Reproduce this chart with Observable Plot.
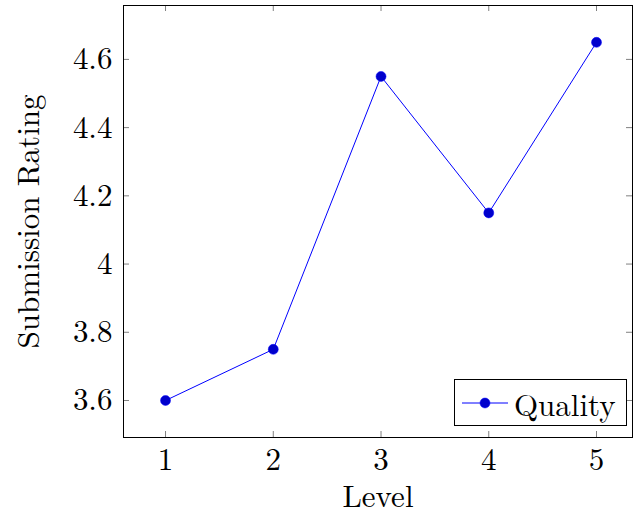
<!DOCTYPE html>
<html>
<head>
<meta charset="utf-8">
<script src="https://cdn.jsdelivr.net/npm/d3@7"></script>
<script src="https://cdn.jsdelivr.net/npm/@observablehq/plot@0.6"></script>
<style>
  body { margin: 0; background: #fff; }
  #wrap { position: relative; width: 633px; height: 515px; font-family: "Latin Modern Roman", "Liberation Serif", "DejaVu Serif", serif; }
  #legend { position: absolute; left: 454px; top: 379px; width: 173px; height: 47px; border: 1px solid #000; background: #fff; display: flex; align-items: center; font-size: 31px; box-sizing: border-box; }
  #legend svg { margin-left: 7px; margin-right: 6px; }
</style>
</head>
<body>
<div id="wrap"></div>
<script>
const levels = [1, 2, 3, 4, 5];
const quality = [3.6, 3.75, 4.55, 4.15, 4.65];
const xTicks = [1, 2, 3, 4, 5];
const yTicks = [3.6, 3.8, 4.0, 4.2, 4.4, 4.6];
const seriesName = "Quality";
const xLabel = "Level";
const yLabel = "Submission Rating";

const data = levels.map((l, i) => ({level: l, rating: quality[i]}));

const W = 633, H = 515;
const mL = 123, mR = 1, mT = 5, mB = 78;
const xDom = [0.61, 5.334];
const yDom = [3.4915, 4.758];
const tickLen = 6;
const kx = (xDom[1] - xDom[0]) / (W - mL - mR);
const ky = (yDom[1] - yDom[0]) / (H - mT - mB);
const tickColor = "#808080";
const FS = 31;

const chart = Plot.plot({
  width: W, height: H,
  marginLeft: mL, marginRight: mR, marginTop: mT, marginBottom: mB,
  style: {fontFamily: '"Latin Modern Roman", "Liberation Serif", "DejaVu Serif", serif', fontSize: FS + "px", background: "#fff", color: "#000"},
  x: {domain: xDom},
  y: {domain: yDom},
  marks: [
    Plot.ruleX(xTicks, {x: d => d, y1: yDom[0], y2: yDom[0] + tickLen * ky, stroke: tickColor}),
    Plot.ruleX(xTicks, {x: d => d, y1: yDom[1], y2: yDom[1] - tickLen * ky, stroke: tickColor}),
    Plot.ruleY(yTicks, {y: d => d, x1: xDom[0], x2: xDom[0] + tickLen * kx, stroke: tickColor}),
    Plot.ruleY(yTicks, {y: d => d, x1: xDom[1], x2: xDom[1] - tickLen * kx, stroke: tickColor}),
    Plot.axisX(xTicks, {tickSize: 0, tickPadding: 10, label: null, tickFormat: d => String(d), fontSize: FS}),
    Plot.axisY(yTicks, {tickSize: 0, tickPadding: 11, label: null, tickFormat: d => String(+d.toFixed(1)), fontSize: FS}),
    Plot.line(data, {x: "level", y: "rating", stroke: "#0000ff", strokeWidth: 1}),
    Plot.dot(data, {x: "level", y: "rating", r: 5, fill: "#0000cc", stroke: "#0000ff", strokeWidth: 0.5}),
    Plot.frame({stroke: "#000", strokeWidth: 1}),
    Plot.text([xLabel], {frameAnchor: "bottom", lineAnchor: "middle", dy: 60, text: d => d, fontSize: FS}),
    Plot.text([yLabel], {frameAnchor: "left", lineAnchor: "middle", textAnchor: "middle", dx: -94, rotate: -90, text: d => d, fontSize: FS})
  ]
});
document.getElementById("wrap").appendChild(chart);

const legend = document.createElement("div");
legend.id = "legend";
legend.innerHTML = `<svg width="46" height="20"><line x1="0" y1="10" x2="46" y2="10" stroke="#0000ff" stroke-width="1"/><circle cx="23" cy="10" r="5" fill="#0000cc" stroke="#0000ff" stroke-width="0.5"/></svg><span>${seriesName}</span>`;
document.getElementById("wrap").appendChild(legend);
</script>
</body>
</html>
